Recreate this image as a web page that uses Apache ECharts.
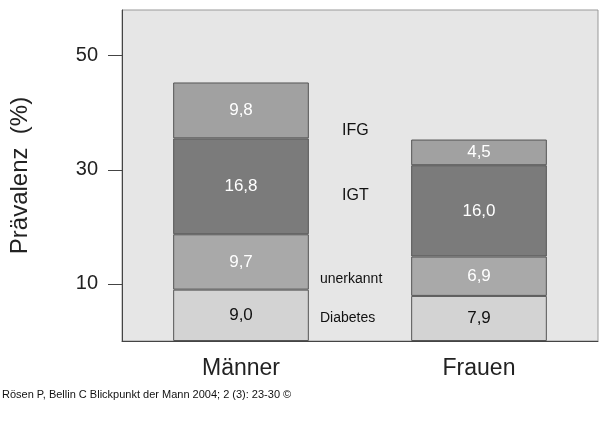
<!DOCTYPE html><html><head><meta charset="utf-8"><script src="https://cdn.jsdelivr.net/npm/echarts@6/dist/echarts.min.js"></script></head><body style="margin:0"><div id="c" style="width:600px;height:445px"></div><script>
const categories=['Männer','Frauen'];
const diabetes=[9.0,7.9], unerkannt=[9.7,6.9], igt=[16.8,16.0], ifg=[9.8,4.5];
const names=['Diabetes','unerkannt','IGT','IFG'];
const tickLabels=[10,30,50];
const cols=['#d3d3d3','#a9a9a9','#7b7b7b','#a1a1a1'];
const txt=['#111','#fff','#fff','#fff'];
const F='Liberation Sans, Arial, sans-serif';
const c=echarts.init(document.getElementById('c'));
c.setOption({animation:false,backgroundColor:'#fff',
grid:{left:118,right:2,top:10,bottom:104,show:true,backgroundColor:'#e6e6e6',borderColor:'#999',borderWidth:1},
xAxis:{type:'category',data:categories,axisLine:{lineStyle:{color:'#444'}},axisTick:{show:false},axisLabel:{fontSize:23,color:'#222',fontFamily:F,margin:16}},
yAxis:{type:'value',min:0,max:58,interval:10,name:'Prävalenz  (%)',nameLocation:'middle',nameGap:90,nameTextStyle:{fontSize:24,color:'#222',fontFamily:F},
axisLine:{show:true,lineStyle:{color:'#444'}},splitLine:{show:false},
axisTick:{show:true,length:14,lineStyle:{color:'#444'},customValues:tickLabels},
axisLabel:{fontSize:20,color:'#222',fontFamily:F,margin:24,customValues:tickLabels}},
graphic:[
...[['IFG',132],['IGT',197],['unerkannt',281],['Diabetes',320]].map(([t,y])=>({type:'text',left:t.length>3?320:342,top:y-9,style:{text:t,fontSize:t.length>3?14:16,fill:'#111',fontFamily:F}})),
{type:'text',left:2,top:389,style:{text:'Rösen P, Bellin C Blickpunkt der Mann 2004; 2 (3): 23-30 ©',fontSize:11,fill:'#111',fontFamily:F}}],
series:[diabetes,unerkannt,igt,ifg].map((d,i)=>({type:'bar',name:names[i],stack:'a',data:d,barWidth:'57%',
itemStyle:{color:cols[i],borderColor:'#555',borderWidth:1},
label:{show:true,formatter:p=>p.value.toFixed(1).replace('.',','),color:txt[i],fontSize:17,fontFamily:F}}))
});
</script></body></html>
